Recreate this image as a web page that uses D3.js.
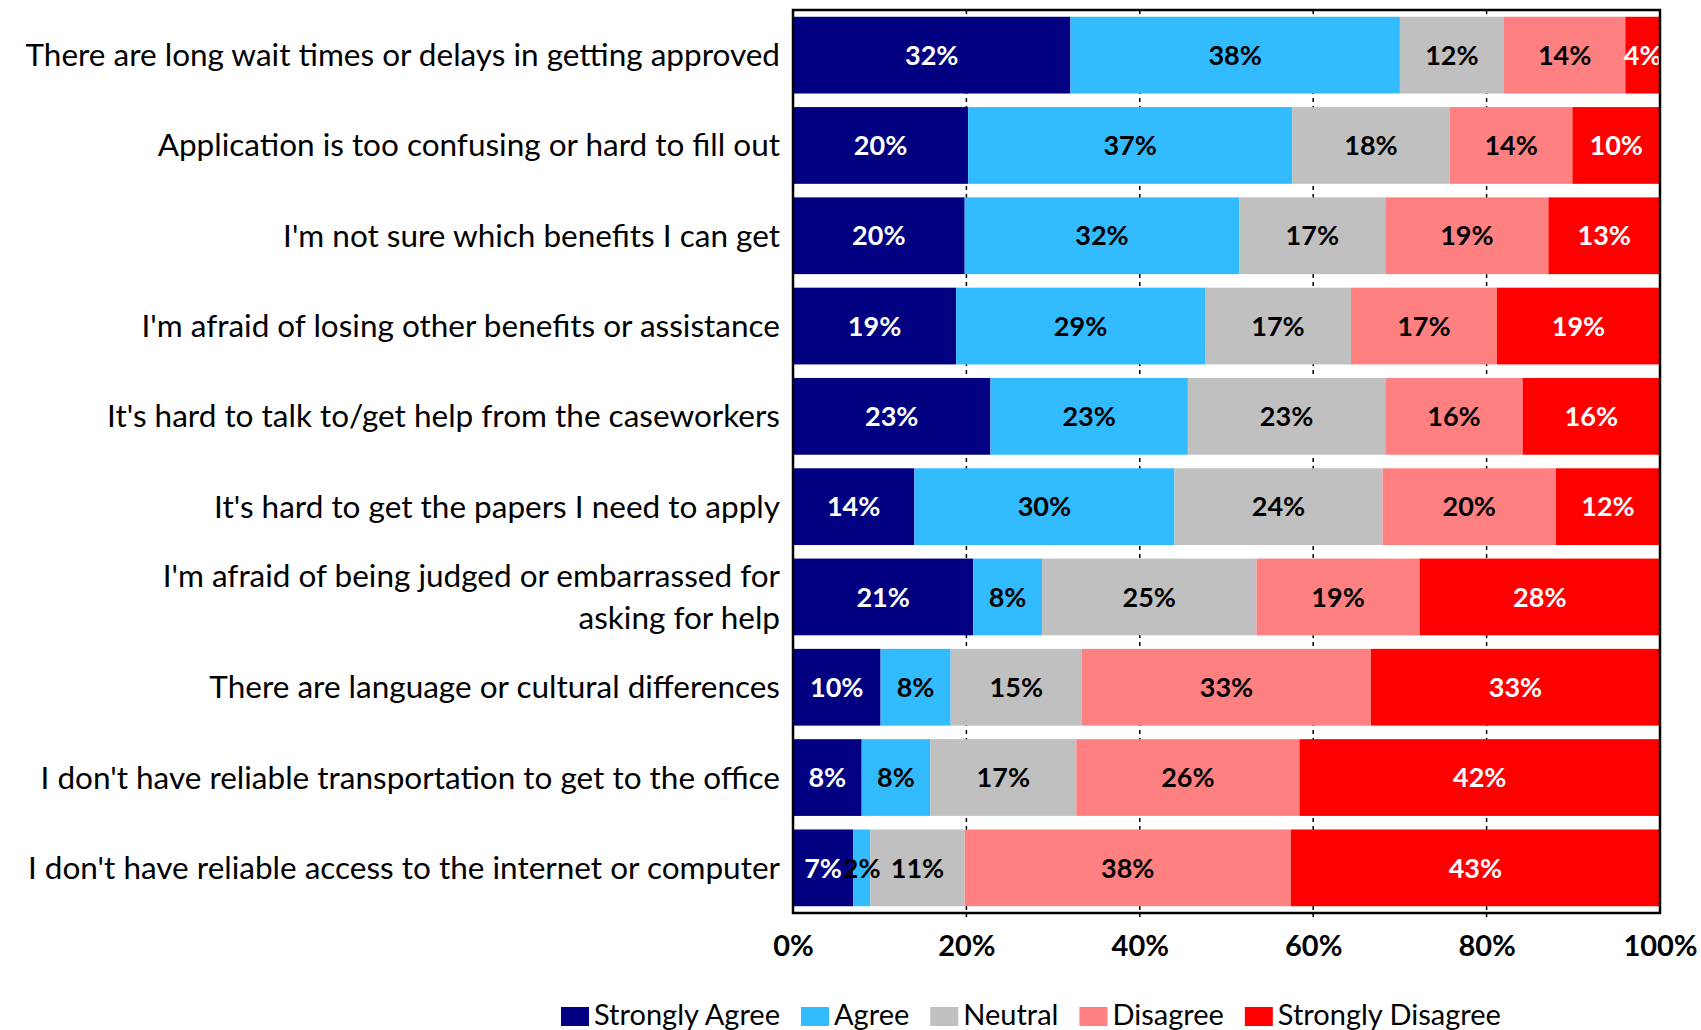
<!DOCTYPE html>
<html>
<head>
<meta charset="utf-8">
<script src="https://cdn.jsdelivr.net/npm/d3@7"></script>
<style>
  body { margin: 0; background: #fff; }
  svg { display: block; }
  text { font-family: Lato, "Open Sans", sans-serif; }
</style>
</head>
<body>
<svg id="chart" width="1701" height="1030"></svg>
<script>
// Survey barriers: share of respondents per agreement level
const categories = [
  "There are long wait times or delays in getting approved",
  "Application is too confusing or hard to fill out",
  "I'm not sure which benefits I can get",
  "I'm afraid of losing other benefits or assistance",
  "It's hard to talk to/get help from the caseworkers",
  "It's hard to get the papers I need to apply",
  "I'm afraid of being judged or embarrassed for\nasking for help",
  "There are language or cultural differences",
  "I don't have reliable transportation to get to the office",
  "I don't have reliable access to the internet or computer"
];
const seriesNames = ["Strongly Agree", "Agree", "Neutral", "Disagree", "Strongly Disagree"];
const stronglyAgree    = [32, 20, 20, 19, 23, 14, 21, 10, 8, 7];
const agree            = [38, 37, 32, 29, 23, 30, 8, 8, 8, 2];
const neutral          = [12, 18, 17, 17, 23, 24, 25, 15, 17, 11];
const disagree         = [14, 14, 19, 17, 16, 20, 19, 33, 26, 38];
const stronglyDisagree = [4, 10, 13, 19, 16, 12, 28, 33, 42, 43];
const tickValues = [0, 0.2, 0.4, 0.6, 0.8, 1];

const seriesColors = ["#000080", "#33BBFF", "#C0C0C0", "#FF8080", "#FF0000"];
const labelColors  = ["#FFFFFF", "#000000", "#000000", "#000000", "#FFFFFF"];

const seriesValues = [stronglyAgree, agree, neutral, disagree, stronglyDisagree];
const rows = categories.map((c, i) => {
  const r = { category: c };
  seriesNames.forEach((s, k) => { r[s] = seriesValues[k][i]; });
  return r;
});

const svg = d3.select("#chart");
const plot = { left: 793, right: 1660, top: 10, bottom: 913 };

const x = d3.scaleLinear().domain([0, 1]).range([plot.left, plot.right]);
const y = d3.scaleBand().domain(categories).range([plot.top, plot.bottom])
  .paddingInner(0.15).paddingOuter(0.075);
const color = d3.scaleOrdinal().domain(seriesNames).range(seriesColors);
const textColor = d3.scaleOrdinal().domain(seriesNames).range(labelColors);

const stacked = d3.stack().keys(seriesNames).offset(d3.stackOffsetExpand)(rows);

svg.append("defs").append("clipPath").attr("id", "plotClip")
  .append("rect")
  .attr("x", plot.left).attr("y", plot.top)
  .attr("width", plot.right - plot.left).attr("height", plot.bottom - plot.top);

// dashed vertical gridlines behind the bars
svg.append("g").selectAll("line")
  .data(tickValues.filter(t => t > 0 && t < 1))
  .join("line")
  .attr("x1", d => x(d)).attr("x2", d => x(d))
  .attr("y1", plot.top).attr("y2", plot.bottom + 4)
  .attr("stroke", "#000").attr("stroke-width", 1.5)
  .attr("stroke-dasharray", "4,4");

// stacked bars
const layers = svg.append("g").selectAll("g")
  .data(stacked)
  .join("g")
  .attr("fill", d => color(d.key));

layers.selectAll("rect")
  .data(d => d)
  .join("rect")
  .attr("x", d => x(d[0]))
  .attr("width", d => x(d[1]) - x(d[0]))
  .attr("y", d => y(d.data.category))
  .attr("height", y.bandwidth());

// value labels
const labelLayer = svg.append("g").attr("clip-path", "url(#plotClip)");
stacked.forEach(layer => {
  labelLayer.append("g").selectAll("text")
    .data(layer)
    .join("text")
    .attr("x", d => (x(d[0]) + x(d[1])) / 2)
    .attr("y", d => y(d.data.category) + y.bandwidth() / 2)
    .attr("dy", "0.36em")
    .attr("text-anchor", "middle")
    .attr("font-size", 27)
    .attr("font-weight", 700)
    .attr("fill", textColor(layer.key))
    .text(d => d.data[layer.key] + "%");
});

// plot frame
svg.append("rect")
  .attr("x", plot.left).attr("y", plot.top)
  .attr("width", plot.right - plot.left).attr("height", plot.bottom - plot.top)
  .attr("fill", "none").attr("stroke", "#000").attr("stroke-width", 2.5);

// bottom axis labels
const xAxis = svg.append("g")
  .attr("transform", `translate(0,${plot.bottom})`)
  .call(d3.axisBottom(x).tickValues(tickValues).tickFormat(d3.format(".0%")).tickSize(0).tickPadding(22));
xAxis.select(".domain").remove();
xAxis.selectAll("text")
  .attr("font-family", "Lato, 'Open Sans', sans-serif")
  .attr("font-size", 29).attr("font-weight", 700).attr("fill", "#000");

// category labels
const catLabels = svg.append("g").selectAll("text")
  .data(categories)
  .join("text")
  .attr("text-anchor", "end")
  .attr("font-size", 31.5)
  .attr("fill", "#000");
catLabels.each(function (c) {
  const lines = c.split("\n");
  const cy = y(c) + y.bandwidth() / 2;
  const lh = 42;
  const sel = d3.select(this);
  lines.forEach((ln, j) => {
    sel.append("tspan")
      .attr("x", 780)
      .attr("y", cy + (j - (lines.length - 1) / 2) * lh)
      .attr("dy", "0.35em")
      .text(ln);
  });
});

// legend
const legend = svg.append("g");
let lx = 561;
seriesNames.forEach(name => {
  const g = legend.append("g");
  g.append("rect").attr("x", lx).attr("y", 1007).attr("width", 28).attr("height", 19)
    .attr("fill", color(name));
  const t = g.append("text").attr("x", lx + 33).attr("y", 1025)
    .attr("font-size", 29).attr("fill", "#000").text(name);
  lx += 33 + t.node().getComputedTextLength() + 21;
});
</script>
</body>
</html>
